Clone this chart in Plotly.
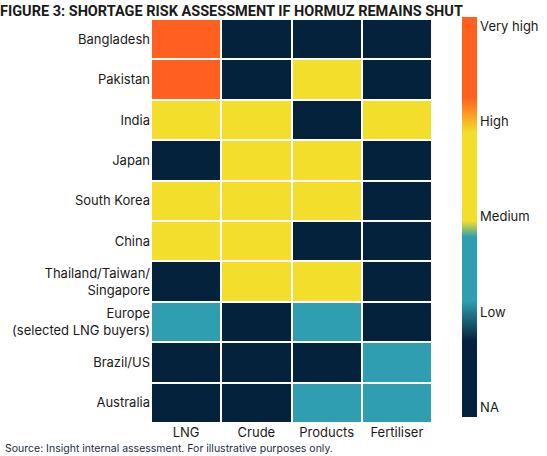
import plotly.graph_objects as go

categories = ["LNG", "Crude", "Products", "Fertiliser"]
countries = ["Bangladesh", "Pakistan", "India", "Japan", "South Korea", "China",
             "Thailand/Taiwan/<br>Singapore", "Europe<br>(selected LNG buyers)",
             "Brazil/US", "Australia"]
# risk scores: 0 = NA, 1.5 = Low band, 2.5 = Medium/High band, 4 = Very high
lng = [4, 4, 2.5, 0, 2.5, 2.5, 0, 1.5, 0, 0]
crude = [0, 0, 2.5, 2.5, 2.5, 2.5, 2.5, 0, 0, 0]
products = [0, 2.5, 0, 2.5, 2.5, 0, 2.5, 1.5, 0, 1.5]
fertiliser = [0, 0, 2.5, 0, 0, 0, 0, 0, 1.5, 1.5]
tick_vals = [0, 1, 2, 3, 4]
tick_text = ["NA", "Low", "Medium", "High", "Very high"]

z = [[lng[i], crude[i], products[i], fertiliser[i]] for i in range(len(countries))]

DARK = "#05223c"
TEAL = "#2f9eb0"
YEL = "#f3df2b"
ORA = "#ff5f1f"
colorscale = [
    [0.0, DARK], [0.19, DARK], [0.29, TEAL], [0.45, TEAL],
    [0.49, YEL], [0.71, YEL], [0.80, ORA], [1.0, ORA],
]

W, H = 547, 456
L, R, T, B = 149, 115, 19, 33
pw, ph = W - L - R, H - T - B

fig = go.Figure(go.Heatmap(
    z=z, x=categories, y=countries,
    zmin=-0.1, zmax=4.1, colorscale=colorscale,
    xgap=2, ygap=2,
    colorbar=dict(
        tickvals=tick_vals, ticktext=tick_text,
        thickness=15, outlinewidth=0,
        xref="container", yref="container",
        x=462/W, xanchor="left", xpad=0,
        y=1 - 19/H, yanchor="top", ypad=0,
        lenmode="pixels", len=400,
        tickfont=dict(size=13, color="#1a1a1a", family="Inter"),
        ticks="", ticklabelposition="outside",
    ),
    hoverinfo="skip",
))

fig.update_layout(
    width=W, height=H,
    margin=dict(l=L, r=R, t=T, b=B),
    paper_bgcolor="white", plot_bgcolor="white",
    font=dict(family="Inter", size=13, color="#1a1a1a"),
    title=dict(text="<b>FIGURE 3: SHORTAGE RISK ASSESSMENT IF HORMUZ REMAINS SHUT</b>",
               x=0, xref="container", xanchor="left",
               y=1 - 11/H, yref="container", yanchor="middle",
               font=dict(size=14.5, family="Roboto", color="#1a1a1a")),
    annotations=[dict(text="Source: Insight internal assessment. For illustrative purposes only.",
                      xref="paper", yref="paper", x=(0 - L)/pw, y=(H - B - 448)/ph,
                      xanchor="left", yanchor="middle", showarrow=False,
                      font=dict(size=10.5, color="#1d2b45", family="Inter"))],
)
fig.update_xaxes(side="bottom", showgrid=False, ticks="", tickfont=dict(size=13))
fig.update_yaxes(autorange="reversed", showgrid=False, ticks="", tickfont=dict(size=13))

fig.write_html("out.html")
